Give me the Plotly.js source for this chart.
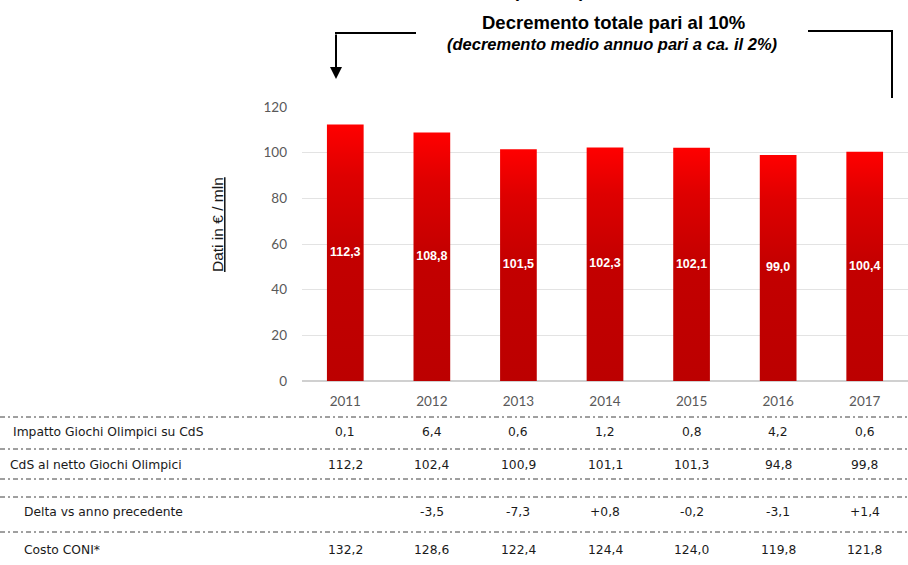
<!DOCTYPE html>
<html>
<head>
<meta charset="utf-8">
<script src="https://cdn.plot.ly/plotly-3.0.1.min.js"></script>
<style>html,body{margin:0;padding:0;background:#fff;}#chart{width:908px;height:565px;}</style>
</head>
<body>
<div id="chart"></div>
<script>
// ---- data ----
const years = ['2011','2012','2013','2014','2015','2016','2017'];
const cds = [112.3, 108.8, 101.5, 102.3, 102.1, 99.0, 100.4];
const impatto = [0.1, 6.4, 0.6, 1.2, 0.8, 4.2, 0.6];
const netto = [112.2, 102.4, 100.9, 101.1, 101.3, 94.8, 99.8];
const delta = [null, -3.5, -7.3, 0.8, -0.2, -3.1, 1.4];
const costo = [132.2, 128.6, 122.4, 124.4, 124.0, 119.8, 121.8];
const rowLabels = ['Impatto Giochi Olimpici su CdS', 'CdS al netto Giochi Olimpici', 'Delta vs anno precedente', 'Costo CONI*'];
const titleText = 'Decremento totale pari al 10%';
const subtitleText = '(decremento medio annuo pari a ca. il 2%)';
const yTitle = 'Dati in € / mln';

// ---- layout geometry ----
const W = 908, H = 565, ML = 302, MR = 0, MT = 107, MB = 184;
const PW = W - ML - MR, PH = H - MT - MB;
const px = v => (v - ML) / PW;          // pixel x -> paper x
const py = v => (H - MB - v) / PH;      // pixel y -> paper y
const fmt = v => v.toFixed(1).replace('.', ',');
const fmtSigned = v => (v > 0 ? '+' : '') + fmt(v);
const halfW = 0.212;

const traces = [];
cds.forEach((v, i) => {
  traces.push({
    type: 'scatter', mode: 'lines',
    x: [i - halfW, i + halfW, i + halfW, i - halfW, i - halfW],
    y: [0, 0, v, v, 0],
    fill: 'toself',
    line: {width: 0, color: 'rgba(0,0,0,0)'},
    fillcolor: '#C00000',
    fillgradient: {type: 'vertical', start: 0, stop: v,
      colorscale: [[0, '#BC0000'], [0.5, '#C30000'], [0.8, '#DE0000'], [1, '#FF0000']]},
    hoverinfo: 'skip', showlegend: false
  });
});
traces.push({
  type: 'scatter', mode: 'text',
  x: cds.map((v, i) => i), y: cds.map(v => v / 2),
  text: cds.map(fmt),
  textfont: {family: 'Liberation Sans, Arial, sans-serif', size: 12.5, color: '#FFFFFF', weight: 'bold'},
  textposition: 'middle center', showlegend: false, hoverinfo: 'skip', cliponaxis: false
});

const annotations = [];
const tableFont = {family: 'DejaVu Sans, Verdana, sans-serif', size: 12.3, color: '#1a1a1a'};
const rowY = [432, 465, 512, 550];
const rowX = [11, 8, 22, 22];
const rowData = [impatto.map(v => v == null ? '' : fmt(v)), netto.map(fmt), delta.map(v => v == null ? '' : fmtSigned(v)), costo.map(fmt)];
rowLabels.forEach((lab, r) => {
  annotations.push({xref: 'paper', yref: 'paper', x: px(rowX[r]), y: py(rowY[r]), xanchor: 'left', yanchor: 'middle', text: lab, showarrow: false, font: tableFont});
  rowData[r].forEach((t, i) => {
    if (t === '') return;
    annotations.push({xref: 'x', yref: 'paper', x: i, y: py(rowY[r]), xanchor: 'center', yanchor: 'middle', text: t, showarrow: false, font: tableFont});
  });
});
// partially visible heading above the frame (only parentheses bottoms visible)
annotations.push({xref: 'paper', yref: 'paper', x: px(549), y: py(-8.5), xanchor: 'center', yanchor: 'middle', text: '<b>(            )</b>', showarrow: false, font: {family: 'Liberation Sans, Arial, sans-serif', size: 18, color: '#000'}});
// titles
annotations.push({xref: 'paper', yref: 'paper', x: px(613), y: py(22), xanchor: 'center', yanchor: 'middle', text: '<b>' + titleText + '</b>', showarrow: false, font: {family: 'Liberation Sans, Arial, sans-serif', size: 18.5, color: '#000'}});
annotations.push({xref: 'paper', yref: 'paper', x: px(612), y: py(44), xanchor: 'center', yanchor: 'middle', text: '<b><i>' + subtitleText + '</i></b>', showarrow: false, font: {family: 'Liberation Sans, Arial, sans-serif', size: 16.5, color: '#000'}});
// y title
annotations.push({xref: 'paper', yref: 'paper', x: px(217), y: py(225), xanchor: 'center', yanchor: 'middle', textangle: -90, text: '<u>' + yTitle + '</u>', showarrow: false, font: {family: 'Liberation Sans, Arial, sans-serif', size: 15.5, color: '#1a1a1a'}});
// left arrow
annotations.push({xref: 'paper', yref: 'paper', x: px(336), y: py(79), ax: 0, ay: -46, text: '', showarrow: true, arrowhead: 2, arrowsize: 1.2, arrowwidth: 2, arrowcolor: '#000'});

const shapes = [];
const seps = [417, 449, 479, 497, 532];
seps.forEach(s => shapes.push({type: 'line', xref: 'paper', yref: 'paper', x0: px(0), x1: px(908), y0: py(s), y1: py(s), line: {color: '#404040', width: 1, dash: '5px,3px,2px,3px'}}));
shapes.push({type: 'line', xref: 'paper', yref: 'paper', x0: px(335), x1: px(416), y0: py(33), y1: py(33), line: {color: '#000', width: 2}});
shapes.push({type: 'line', xref: 'paper', yref: 'paper', x0: px(808), x1: px(893), y0: py(31), y1: py(31), line: {color: '#000', width: 2}});
shapes.push({type: 'line', xref: 'paper', yref: 'paper', x0: px(892), x1: px(892), y0: py(30), y1: py(98), line: {color: '#000', width: 2}});

const layout = {
  width: W, height: H,
  margin: {l: ML, r: MR, t: MT, b: MB, pad: 0},
  paper_bgcolor: '#FFFFFF', plot_bgcolor: '#FFFFFF',
  showlegend: false,
  xaxis: {range: [-0.5, 6.5], tickmode: 'array', tickvals: years.map((y, i) => i), ticktext: years,
    showgrid: false, zeroline: false, showline: false, ticks: '', ticklabelstandoff: 10,
    tickfont: {family: 'Lato, Liberation Sans, sans-serif', size: 13.5, color: '#595959'}, fixedrange: true},
  yaxis: {range: [0, 120], tickmode: 'array', tickvals: [0, 20, 40, 60, 80, 100, 120],
    showgrid: true, gridcolor: '#E3E3E3', gridwidth: 1, zeroline: true, zerolinecolor: '#D0D0D0', zerolinewidth: 2,
    showline: false, ticks: '', ticklabelstandoff: 14,
    tickfont: {family: 'Lato, Liberation Sans, sans-serif', size: 13.5, color: '#595959'}, fixedrange: true},
  annotations: annotations,
  shapes: shapes
};

Plotly.newPlot('chart', traces, layout, {displayModeBar: false, staticPlot: true});
</script>
</body>
</html>
